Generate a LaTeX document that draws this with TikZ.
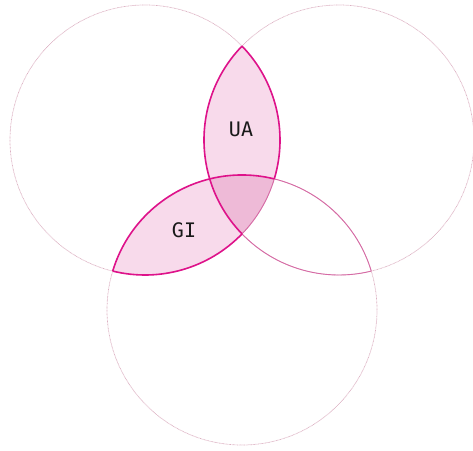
\documentclass[tikz,border=0pt]{standalone}
\usepackage{fontspec}
\newfontfamily\monofont{DejaVu Sans Mono}
\definecolor{mag}{RGB}{222,18,138}
\definecolor{thinpink}{RGB}{214,106,165}
\definecolor{faint}{RGB}{220,176,194}
\definecolor{lightfill}{RGB}{248,218,235}
\definecolor{darkfill}{RGB}{238,186,215}
\begin{document}
\begin{tikzpicture}[x=1pt,y=1pt,
 thickedge/.style={draw=mag,line width=1.6pt,line join=miter},
 thinedge/.style={draw=thinpink,line width=0.9pt},
 faintcircle/.style={draw=faint,line width=0.7pt,dash pattern=on 0.8pt off 0.6pt},
 lbl/.style={font=\monofont\fontsize{20}{20}\selectfont,text=black!90}]
\useasboundingbox (0,0) rectangle (473,450);
\coordinate (A) at (145,310);
\coordinate (B) at (339,310);
\coordinate (C) at (242,140);
\coordinate (P1) at (242,403.894);
\coordinate (P2) at (242,216.106);
\coordinate (Q1) at (274.27,271.09);
\coordinate (Q2) at (112.73,178.91);
\coordinate (R1) at (209.73,271.09);
\coordinate (R2) at (371.27,178.91);
% faint full circles
\draw[faintcircle] (A) circle[radius=135];
\draw[faintcircle] (B) circle[radius=135];
\draw[faintcircle] (C) circle[radius=135];
% fills
\fill[lightfill] (P2) arc[start angle=-44.07,end angle=44.07,radius=135]
  arc[start angle=135.93,end angle=224.07,radius=135] -- cycle;
\fill[lightfill] (Q2) arc[start angle=-103.83,end angle=-16.75,radius=135]
  arc[start angle=76.17,end angle=163.25,radius=135] -- cycle;
\fill[darkfill] (R1) arc[start angle=103.83,end angle=76.17,radius=135]
  arc[start angle=-16.75,end angle=-44.07,radius=135]
  arc[start angle=224.07,end angle=196.75,radius=135] -- cycle;
% thin edges
\draw[thinedge] (R2) arc[start angle=16.75,end angle=76.17,radius=135];
\draw[thinedge] (P2) arc[start angle=224.07,end angle=283.83,radius=135];
\draw[thinedge] (Q1) arc[start angle=-16.75,end angle=-44.07,radius=135];
% thick edges
\draw[thickedge] (P1) arc[start angle=135.93,end angle=224.07,radius=135];
\draw[thickedge] (P1) arc[start angle=44.07,end angle=-16.75,radius=135];
\draw[thickedge] (Q2) arc[start angle=163.25,end angle=76.17,radius=135];
\draw[thickedge] (Q2) arc[start angle=-103.83,end angle=-44.07,radius=135];
% labels
\node[lbl] (ua) at (241,320.5) {UA};
\node[lbl] (gi) at (184,220) {GI};
\end{tikzpicture}
\end{document}
